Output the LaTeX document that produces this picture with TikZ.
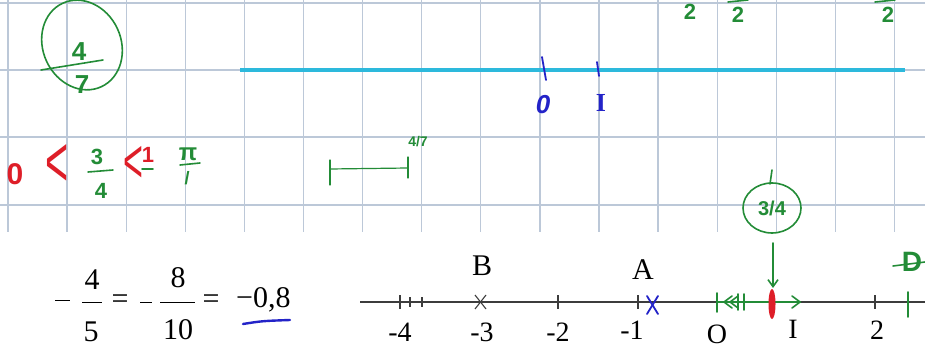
\documentclass[tikz,border=0pt]{standalone}
\usepackage{fontspec}
\setmainfont{Liberation Serif}
\newfontfamily\hand{Liberation Sans}
\usetikzlibrary{arrows.meta,shapes.geometric}
\definecolor{gridc}{RGB}{188,200,216}
\definecolor{cyanline}{RGB}{45,185,220}
\definecolor{hgreen}{RGB}{35,140,55}
\definecolor{hblue}{RGB}{35,35,200}
\definecolor{hred}{RGB}{222,30,40}
\definecolor{ink}{RGB}{60,60,60}
\tikzset{
  gridline/.style={gridc, line width=1.3pt},
  hg/.style={hgreen, line width=1.6pt, line cap=round},
  hb/.style={hblue, line width=1.8pt, line cap=round},
  htext/.style={inner sep=0pt, font=\hand\bfseries\fontsize{#1}{#1}\selectfont},
  htext/.default=20,
  thin text/.style={inner sep=0pt, font=\hand\fontsize{#1}{#1}\selectfont},
  ptext/.style={inner sep=0pt, text=black, font=\fontsize{#1}{#1}\selectfont},
  ptext/.default=28,
  axis/.style={ink, line width=1.3pt},
  tick/.style={ink, line width=1.1pt}
}
\begin{document}
\begin{tikzpicture}[x=1pt,y=-1pt]
\useasboundingbox (0,0) rectangle (925,352);
\fill[white] (0,0) rectangle (925,352);
% grid
\foreach \k in {0,...,15} {
  \draw[gridline] ({8+59.1*\k},0) -- ({8+59.1*\k},232);
}
\foreach \yy in {3,70,137,205} {
  \draw[gridline] (0,\yy) -- (925,\yy);
}
% cyan line
\draw[cyanline, line width=4.5pt] (240,70) -- (905,70);
% blue ticks and labels
\draw[hb] (542,57) -- (546,80);
\draw[hb] (597,62) -- (599,76);
\node[htext=26, text=hblue] (zero) at (543,105) {\itshape 0};
\node[inner sep=0pt, text=hblue, font=\bfseries\fontsize{26}{26}\selectfont] (one) at (601,103) {I};
% top green partial fractions
\node[htext=22, text=hgreen] (t1) at (690,12) {2};
\node[htext=22, text=hgreen] (t2) at (738,15) {2};
\node[htext=22, text=hgreen] (t3) at (888,15) {2};
\draw[hg] (728,2) -- (748,0);
\draw[hg] (875,2) -- (895,0);
% green circled 4/7
\draw[hg] (82,45) ellipse [x radius=39, y radius=46, rotate=25];
\draw[hg] (41,70) -- (103,60);
\node[htext=26, text=hgreen] (f4) at (79,52) {4};
\node[htext=26, text=hgreen] (f7) at (82,85) {7};
% red/green inequality
\node[thin text=30, text=hred] (r0) at (15,174) {\bfseries 0};
\node[thin text=72, text=hred, xscale=0.55] (lt1) at (57,166) {<};
\node[htext=22, text=hgreen] (n3) at (97,157) {3};
\draw[hg] (88,172) -- (113,170);
\node[htext=22, text=hgreen] (d4) at (101,191) {4};
\node[thin text=62, text=hred, xscale=0.55] (lt2) at (133,164) {<};
\node[htext=22, text=hred] (r1) at (148,155) {1};
\draw[hg] (142,169) -- (153,169);
\node[htext=24, text=hgreen] (pi) at (188,154) {π};
\draw[hg] (180,165) -- (200,163);
\node[htext=18, text=hgreen] (p1) at (187,178) {/};
% green segment 4/7
\draw[hg, line width=1.2pt] (330,160) -- (330,185);
\draw[hg, line width=1.2pt] (408,157) -- (408,178);
\draw[hg, line width=1.2pt] (330,169) -- (408,168);
\node[htext=14, text=hgreen] (seg) at (418,142) {4/7};
% bottom formula
\draw[black, line width=1pt] (55,300) -- (70,300);
\node[ptext=30] (a4) at (92,280) {4};
\draw[black, line width=1pt] (82,302) -- (102,302);
\node[ptext=30] (a5) at (91,332) {5};
\node[ptext=30] (eq1) at (120,302) {=};
\draw[black, line width=1pt] (140,302) -- (152,302);
\node[ptext=30] (a8) at (178,278) {8};
\draw[black, line width=1pt] (160,302) -- (195,302);
\node[ptext=30] (a10) at (178,330) {10};
\node[ptext=30] (eq2) at (211,302) {=};
\node[ptext=30, anchor=west] (dec) at (236,300) {−0,8};
\draw[hb, line width=2.4pt] (243,324) .. controls (262,321) .. (290,320);
% number line
\draw[axis] (360,302) -- (925,302);
\foreach \xx in {400,558,638,875} {
  \draw[tick] (\xx,295) -- (\xx,309);
}
\draw[tick] (410,297) -- (410,307);
\draw[tick] (422,297) -- (422,307);
\draw[tick] (475,295) -- (486,309);
\draw[tick] (486,295) -- (475,309);
\node[ptext=28] (m4) at (400,332) {-4};
\node[ptext=28] (m3) at (482,332) {-3};
\node[ptext=28] (m2) at (558,332) {-2};
\node[ptext=28] (m1) at (632,330) {-1};
\node[ptext=28] (lo) at (717,334) {O};
\node[ptext=28] (li) at (793,329) {I};
\node[ptext=28] (l2) at (877,330) {2};
\node[ptext=30] (lb) at (482,266) {B};
\node[ptext=30] (la) at (643,270) {A};
% A blue cross
\draw[hb] (647,296) -- (658,314);
\draw[hb] (658,296) -- (647,314);
% green marks between O and I
\draw[hg] (717,293) -- (717,312);
\draw[hg] (738,294) -- (738,310);
\draw[hg] (744,294) -- (744,310);
\draw[hg] (717,302) -- (800,302);
\draw[hg] (732,296) -- (724,302) -- (732,308);
\draw[hg] (738,296) -- (730,302) -- (738,308);
\draw[hg] (792,296) -- (800,302) -- (792,308);
% red mark 3/4
\fill[hred] (772,304) ellipse [x radius=3.5, y radius=15];
\coordinate (red) at (773,288);
% circled 3/4 with arrow
\node[ellipse, draw=hgreen, line width=1.6pt, minimum width=58pt, minimum height=50pt, htext=20, text=hgreen] (c34) at (772,208) {3/4};
\draw[hg] (770,184) -- (772,170);
\draw[hg, -{Straight Barb[length=7pt,width=10pt]}] (773,243) -- (red);
% green D
\draw[hg] (908,292) -- (908,317);
\node[htext=28, text=hgreen] (dd) at (912,262) {D};
\draw[hg] (893,266) -- (925,262);
\end{tikzpicture}
\end{document}
